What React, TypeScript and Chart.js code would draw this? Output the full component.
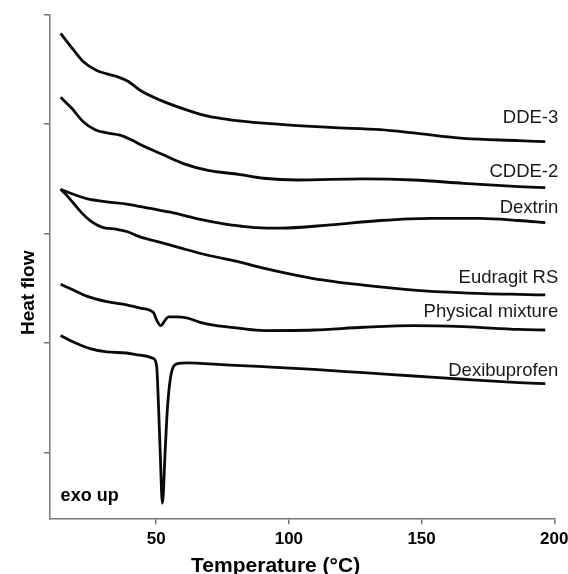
import React, { useEffect, useRef } from "react";
import { Chart, registerables } from "chart.js";
Chart.register(...registerables);

const FONT = '"Liberation Sans", Arial, sans-serif';

const seriesNames = ["DDE-3", "CDDE-2", "Dextrin", "Eudragit RS", "Physical mixture", "Dexibuprofen"];

const dde3: [number, number][] = [
  [14.0, 44.3], [18.8, 42.8], [22.6, 41.7], [27.6, 40.9], [31.4, 40.6], [35.8, 40.3], [39.5, 39.9],
  [43.9, 39.1], [51.5, 38.2], [60.3, 37.4], [69.1, 36.75], [77.9, 36.4], [90.4, 36.1], [115.6, 35.7],
  [134.4, 35.5], [147.0, 35.2], [165.8, 34.7], [186.6, 34.5], [196.6, 34.4],
];
const cdde2: [number, number][] = [
  [14.0, 38.45], [18.2, 37.45], [22.6, 36.2], [27.0, 35.5], [31.4, 35.2], [36.4, 35.0], [40.8, 34.55],
  [45.2, 34.0], [52.7, 33.2], [60.3, 32.4], [69.1, 31.8], [81.6, 31.4], [90.4, 31.06], [103.0, 30.9],
  [128.1, 31.0], [147.0, 30.9], [165.8, 30.6], [186.6, 30.3], [196.6, 30.2],
];
const dextrin: [number, number][] = [
  [14.0, 30.05], [18.8, 29.6], [23.8, 29.2], [31.4, 28.9], [38.9, 28.7], [47.7, 28.3], [56.5, 27.9],
  [66.6, 27.3], [76.6, 26.85], [81.6, 26.7], [87.9, 26.55], [96.7, 26.5], [115.6, 26.8], [134.4, 27.2],
  [153.3, 27.4], [172.1, 27.4], [186.6, 27.2], [196.6, 27.0],
];
const eudragit: [number, number][] = [
  [14.0, 30.05], [16.3, 29.5], [18.8, 28.8], [21.95, 27.9], [25.1, 27.2], [29.5, 26.6], [35.15, 26.4],
  [38.9, 26.2], [43.9, 25.7], [50.2, 25.3], [59.0, 24.7], [69.1, 24.05], [81.6, 23.4], [90.4, 22.85],
  [109.3, 21.9], [128.1, 21.3], [147.0, 20.85], [165.8, 20.6], [186.6, 20.45], [196.6, 20.4],
];
const physicalMixture: [number, number][] = [
  [14.0, 21.37], [18.8, 20.85], [23.8, 20.3], [31.4, 19.8], [38.9, 19.5], [43.9, 19.2], [48.95, 18.8],
  [50.2, 18.1], [51.7, 17.6], [53.4, 18.1], [54.6, 18.4], [57.8, 18.4], [61.5, 18.3], [66.6, 17.9],
  [71.6, 17.65], [81.6, 17.35], [90.4, 17.15], [109.3, 17.2], [128.1, 17.45], [147.0, 17.6],
  [165.8, 17.5], [186.6, 17.25], [196.6, 17.2],
];
const dexibuprofen: [number, number][] = [
  [14.0, 16.7], [18.8, 16.1], [25.1, 15.5], [31.4, 15.2], [38.9, 15.1], [43.9, 14.9], [48.95, 14.6],
  [50.2, 13.85], [50.8, 10.8], [51.5, 6.2], [52.35, 1.37], [53.4, 6.2], [54.2, 9.9], [55.25, 12.6],
  [56.5, 13.85], [58.4, 14.15], [61.5, 14.2], [66.6, 14.15], [77.9, 14.0], [90.4, 13.85], [109.3, 13.6],
  [128.1, 13.3], [147.0, 13.0], [165.8, 12.7], [186.6, 12.4], [196.6, 12.3],
];

const seriesData = [dde3, cdde2, dextrin, eudragit, physicalMixture, dexibuprofen];

const xTicks = [50, 100, 150, 200];
const yTicks = [6, 16, 26, 36, 46];

const labelTemp = 201.5;
const labelValues = [36.13, 31.15, 27.86, 21.47, 18.41, 13.0];

const exoText = "exo up";
const exoT = 14.0;
const exoV = 1.58;

const xTitle = "Temperature (°C)";
const xTitleT = 95.0;
const yTitle = "Heat flow";
const yTitleV = 20.6;

const textPlugin = {
  id: "annotText",
  afterDraw(chart: any) {
    const { ctx, scales, chartArea } = chart;
    const x = scales.x;
    const y = scales.y;
    ctx.save();
    ctx.fillStyle = "#1a1a1a";
    ctx.font = `18.5px ${FONT}`;
    ctx.textAlign = "right";
    ctx.textBaseline = "alphabetic";
    seriesNames.forEach((n, i) => {
      ctx.fillText(n, x.getPixelForValue(labelTemp), y.getPixelForValue(labelValues[i]));
    });
    ctx.fillStyle = "#000";
    ctx.font = `bold 18px ${FONT}`;
    ctx.textAlign = "left";
    ctx.fillText(exoText, x.getPixelForValue(exoT), y.getPixelForValue(exoV));
    ctx.font = `bold 21px ${FONT}`;
    ctx.textAlign = "center";
    ctx.fillText(xTitle, x.getPixelForValue(xTitleT), chart.height - 2);
    ctx.translate(chartArea.left - 16, y.getPixelForValue(yTitleV));
    ctx.rotate(-Math.PI / 2);
    ctx.font = `bold 19px ${FONT}`;
    ctx.fillText(yTitle, 0, 0);
    ctx.restore();
  },
};

export default function App() {
  const ref = useRef<HTMLCanvasElement | null>(null);
  useEffect(() => {
    if (!ref.current) return;
    const axisGrid = {
      drawOnChartArea: false,
      drawTicks: true,
      tickLength: 6,
      color: "#777",
      lineWidth: 1.5,
    };
    const chart = new Chart(ref.current, {
      type: "line",
      data: {
        datasets: seriesData.map((pts, i) => ({
          label: seriesNames[i],
          data: pts.map(([t, v]) => ({ x: t, y: v })),
          borderColor: "#0a0a0a",
          borderWidth: 2.8,
          pointRadius: 0,
          fill: false,
          cubicInterpolationMode: "monotone" as const,
        })),
      },
      options: {
        animation: false,
        responsive: false,
        devicePixelRatio: 1,
        layout: { padding: { top: 14.7, right: 13.7, left: 0, bottom: 0 } },
        plugins: { legend: { display: false }, tooltip: { enabled: false } },
        scales: {
          x: {
            type: "linear",
            min: 10,
            max: 200,
            afterBuildTicks: (s: any) => {
              s.ticks = xTicks.map((v) => ({ value: v }));
            },
            afterFit: (s: any) => {
              s.height = 55.7;
              s.paddingLeft = 0;
              s.paddingRight = 0;
            },
            ticks: {
              color: "#000",
              padding: 5,
              maxRotation: 0,
              autoSkip: false,
              font: { family: FONT, size: 17, weight: "bold" },
            },
            grid: axisGrid,
            border: { color: "#777", width: 1.5 },
          },
          y: {
            type: "linear",
            min: 0,
            max: 46,
            afterBuildTicks: (s: any) => {
              s.ticks = yTicks.map((v) => ({ value: v }));
            },
            afterFit: (s: any) => {
              s.width = 50;
              s.paddingTop = 0;
              s.paddingBottom = 0;
            },
            ticks: { display: false },
            grid: axisGrid,
            border: { color: "#777", width: 1.5 },
          },
        },
      },
      plugins: [textPlugin],
    } as any);
    return () => chart.destroy();
  }, []);
  return (
    <div style={{ position: "absolute", left: 0, top: 0, width: 568, height: 574, background: "#fff" }}>
      <canvas ref={ref} width={568} height={574} style={{ display: "block" }} />
    </div>
  );
}
